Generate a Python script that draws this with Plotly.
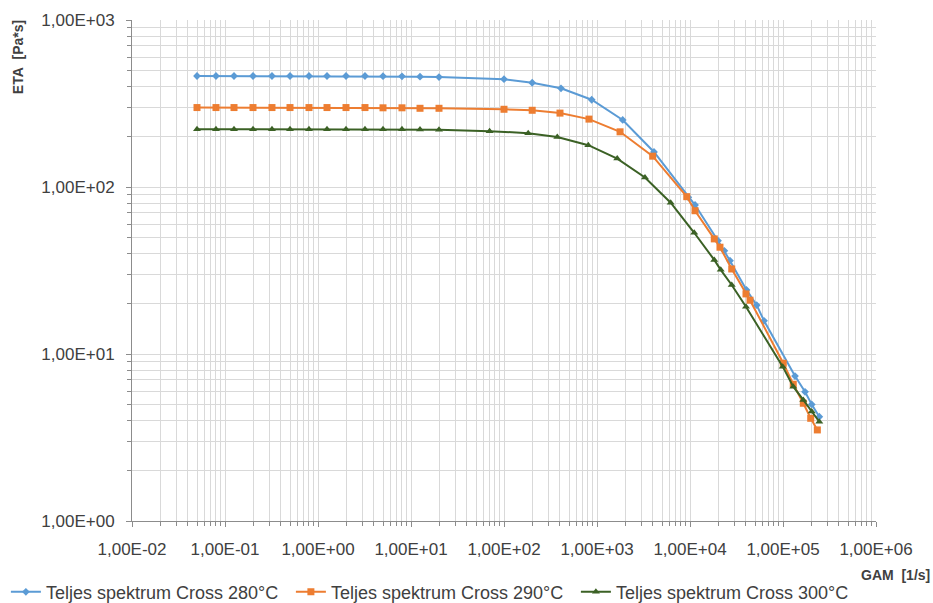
import plotly.graph_objects as go

# ---- data ----
gam_280 = [0.05, 0.08, 0.125, 0.2, 0.32, 0.5, 0.8, 1.25, 2, 3.2, 5, 8, 12.5, 20,
           100, 201, 410, 877, 1890, 4100, 9590, 11330,
           20000, 23400, 26900, 40500, 52200, 62500, 134600, 172500, 203700, 245600]
eta_280 = [462, 462, 462, 462, 462, 462, 462, 462, 462, 462, 461, 460, 458, 455,
           442, 421, 390, 333, 252, 162, 86.7, 78,
           47.7, 41.5, 36.2, 24.2, 19.6, 15.8, 7.38, 5.94, 4.99, 4.21]

gam_290 = [0.05, 0.08, 0.125, 0.2, 0.32, 0.5, 0.8, 1.25, 2, 3.2, 5, 8, 12.5, 20,
           100, 201, 400, 820, 1770, 3970, 9230, 11330,
           18240, 21000, 28100, 40000, 44200, 100700, 129000, 165300, 198600, 234000]
eta_290 = [299, 299, 299, 299, 299, 299, 299, 299, 299, 299, 298, 298, 296, 296,
           292, 288, 277, 255, 214, 153, 87.5, 72.1,
           48.9, 43.6, 32.3, 22.9, 21.0, 8.8, 6.59, 5.07, 4.12, 3.51]

gam_300 = [0.05, 0.08, 0.125, 0.2, 0.32, 0.5, 0.8, 1.25, 2, 3.2, 5, 8, 12.5, 20,
           70, 182, 374, 806, 1650, 3280, 6200, 11100,
           18240, 21400, 28100, 40000, 99300, 129000, 165300, 203700, 245600]
eta_300 = [222, 222, 222, 222, 222, 222, 222, 222, 222, 222, 222, 222, 221, 220,
           216, 210, 199, 178, 148, 114, 80.5, 53.2,
           36.6, 31.9, 25.9, 19.2, 8.4, 6.37, 5.31, 4.52, 3.93]

series_names = ["Teljes spektrum Cross 280°C", "Teljes spektrum Cross 290°C",
                "Teljes spektrum Cross 300°C"]

x_tick_vals = [1e-2, 1e-1, 1e0, 1e1, 1e2, 1e3, 1e4, 1e5, 1e6]
x_tick_text = ["1,00E-02", "1,00E-01", "1,00E+00", "1,00E+01", "1,00E+02",
               "1,00E+03", "1,00E+04", "1,00E+05", "1,00E+06"]
y_tick_vals = [1, 10, 100, 1000]
y_tick_text = ["1,00E+00", "1,00E+01", "1,00E+02", "1,00E+03"]

colors = ["#5B9BD5", "#ED7D31", "#3B6125"]
symbols = ["diamond", "square", "triangle-up"]
sizes = [6, 7, 7]

FONT = "Liberation Sans, Arial, sans-serif"
TXT = "#404040"
GRID = "#D9D9D9"
AXIS = "#8C8C8C"

fig = go.Figure()
for xs, ys, name, c, s, sz in zip([gam_280, gam_290, gam_300],
                                  [eta_280, eta_290, eta_300],
                                  series_names, colors, symbols, sizes):
    fig.add_trace(go.Scatter(
        x=xs, y=ys, name=name, mode="lines+markers",
        line=dict(color=c, width=2),
        marker=dict(color=c, symbol=s, size=sz),
    ))

fig.update_xaxes(
    type="log", range=[-2, 6], automargin=False,
    tickvals=x_tick_vals, ticktext=x_tick_text,
    showgrid=True, gridcolor=GRID, gridwidth=1,
    showline=True, linecolor=AXIS, linewidth=1,
    ticks="outside", ticklen=5, tickcolor=AXIS,
    ticklabelstandoff=8,
    tickfont=dict(family=FONT, size=17, color=TXT),
    minor=dict(dtick="D1", showgrid=True, gridcolor=GRID, gridwidth=1,
               ticks="outside", ticklen=4, tickcolor=AXIS),
    zeroline=False,
)
fig.update_yaxes(
    type="log", range=[0, 3], automargin=False,
    tickvals=y_tick_vals, ticktext=y_tick_text,
    showgrid=True, gridcolor=GRID, gridwidth=1,
    showline=True, linecolor=AXIS, linewidth=1,
    ticks="outside", ticklen=5, tickcolor=AXIS,
    ticklabelstandoff=8,
    tickfont=dict(family=FONT, size=17, color=TXT),
    minor=dict(dtick="D1", showgrid=True, gridcolor=GRID, gridwidth=1,
               ticks="outside", ticklen=4, tickcolor=AXIS),
    zeroline=False,
)

fig.add_annotation(text="<b>ETA\u00a0\u00a0[Pa*s]</b>", xref="paper", yref="paper",
                   x=-0.153, y=1.004, xanchor="center", yanchor="top", textangle=-90,
                   showarrow=False, font=dict(family=FONT, size=14, color=TXT))
fig.add_annotation(text="<b>GAM\u00a0\u00a0[1/s]</b>", xref="paper", yref="paper",
                   x=1.0753, y=-0.108, xanchor="right", yanchor="middle",
                   showarrow=False, font=dict(family=FONT, size=14, color=TXT))

fig.update_layout(
    width=933, height=603,
    margin=dict(l=132, r=57, t=20, b=82, autoexpand=False),
    paper_bgcolor="white", plot_bgcolor="white",
    font=dict(family=FONT, size=17, color=TXT),
    showlegend=True,
    legend=dict(orientation="h", x=-0.1695, xanchor="left", y=-0.142, yanchor="middle",
                font=dict(family=FONT, size=18, color=TXT),
                itemwidth=30, entrywidth=240, entrywidthmode="pixels",
                tracegroupgap=0, bgcolor="rgba(0,0,0,0)"),
)

fig.write_html("out.html", config={"displayModeBar": False},
               post_script="document.body.style.margin='0px';document.body.style.padding='0px';")
